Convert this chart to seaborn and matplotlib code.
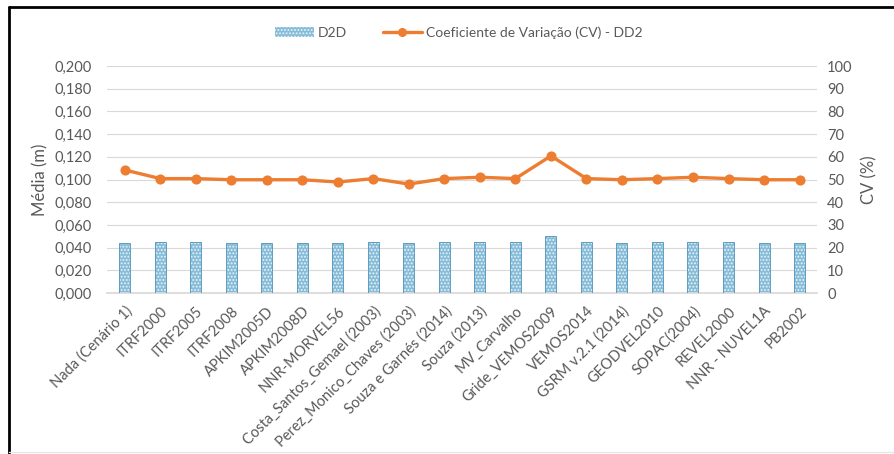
import matplotlib
matplotlib.use('Agg')
import matplotlib.pyplot as plt
import seaborn as sns
from matplotlib.lines import Line2D
from matplotlib.patches import Patch
from matplotlib.ticker import MultipleLocator, FuncFormatter

# Data
categories = [
    'Nada (Cenário 1)', 'ITRF2000', 'ITRF2005', 'ITRF2008', 'APKIM2005D',
    'APKIM2008D', 'NNR-MORVEL56', 'Costa_Santos_Gemael (2003)',
    'Perez_Monico_Chaves (2003)', 'Souza e Garnés (2014)', 'Souza (2013)',
    'MV_Carvalho', 'Gride_VEMOS2009', 'VEMOS2014', 'GSRM v.2.1 (2014)',
    'GEODVEL2010', 'SOPAC(2004)', 'REVEL2000', 'NNR - NUVEL1A', 'PB2002',
]
d2d_media = [0.044, 0.045, 0.045, 0.044, 0.044, 0.044, 0.044, 0.045, 0.044, 0.045,
             0.045, 0.045, 0.050, 0.045, 0.044, 0.045, 0.045, 0.045, 0.044, 0.044]
cv_dd2 = [54.2, 50.4, 50.4, 49.9, 49.9, 49.9, 48.9, 50.4, 48.0, 50.4,
          51.0, 50.4, 60.4, 50.4, 49.9, 50.4, 51.0, 50.4, 49.9, 49.9]

BAR_COLOR = '#86bcd8'
LINE_COLOR = '#ed7d31'
TEXT_COLOR = '#595959'
GRID_COLOR = '#d9d9d9'

sns.set_theme(style='white')
plt.rcParams['font.family'] = ['Lato', 'DejaVu Sans']
plt.rcParams['hatch.linewidth'] = 0.9

fig = plt.figure(figsize=(8.94, 4.54), dpi=100)
ax = fig.add_axes([0.1197, 0.3546, 0.7945, 0.5])
ax2 = ax.twinx()

# Bars (primary axis)
sns.barplot(x=categories, y=d2d_media, ax=ax, color=BAR_COLOR, width=0.31,
            saturation=1, zorder=2)
for p in ax.patches:
    p.set_hatch('.....')
    p.set_edgecolor('#e8f3f9')
    p.set_linewidth(0)
    ax.add_patch(plt.Rectangle(p.get_xy(), p.get_width(), p.get_height(),
                               fill=False, edgecolor='#5f9dc0', lw=0.7, zorder=3))

# Line (secondary axis)
sns.pointplot(x=categories, y=cv_dd2, ax=ax2, color=LINE_COLOR, markers='o',
              markersize=5.5, linewidth=2.4, zorder=4)

ax.set_ylim(0, 0.2)
ax2.set_ylim(0, 100)
ax.set_xlim(-0.5, len(categories) - 0.5)
ax.yaxis.set_major_locator(MultipleLocator(0.02))
ax2.yaxis.set_major_locator(MultipleLocator(10))
ax.yaxis.set_major_formatter(FuncFormatter(lambda v, _: f'{v:.3f}'.replace('.', ',')))

ax.grid(axis='y', color=GRID_COLOR, lw=0.8, zorder=0)
ax.set_axisbelow(True)
for a in (ax, ax2):
    for s in a.spines.values():
        s.set_visible(False)
    a.tick_params(length=0, colors=TEXT_COLOR, labelsize=10.5)
ax.spines['bottom'].set_visible(True)
ax.spines['bottom'].set_color(GRID_COLOR)

ax.tick_params(axis='y', pad=11)
ax2.tick_params(axis='y', pad=7)
ax.set_xticks(range(len(categories)))
ax.set_xticklabels(categories, rotation=45, ha='right', rotation_mode='anchor',
                   fontsize=10.5, color=TEXT_COLOR)
ax.tick_params(axis='x', pad=8)

ax.set_ylabel('Média (m)', color=TEXT_COLOR, fontsize=12, labelpad=4)
ax2.set_ylabel('CV (%)', color=TEXT_COLOR, fontsize=12, rotation=90, labelpad=6)
ax.set_xlabel('')

handles = [
    Patch(facecolor=BAR_COLOR, edgecolor='#e8f3f9', hatch='.....', lw=0),
    Line2D([0], [0], color=LINE_COLOR, lw=2.4, marker='o', markersize=5.5),
]
fig.legend(handles, ['D2D', 'Coeficiente de Variação (CV) - DD2'],
           loc='center', bbox_to_anchor=(0.513, 0.928), ncol=2, frameon=False,
           fontsize=10, labelcolor=TEXT_COLOR, handlelength=2.8,
           columnspacing=2.6, handletextpad=0.3)

# Outer frame (black on top/left, faint at bottom)
fig.add_artist(Line2D([9 / 894, 1], [1 - 7 / 454, 1 - 7 / 454], color='black', lw=2))
fig.add_artist(Line2D([9 / 894, 9 / 894], [0, 1 - 7 / 454], color='black', lw=2))
fig.add_artist(Line2D([9 / 894, 1], [2 / 454, 2 / 454], color='#e6e6e6', lw=1))

fig.savefig('out.png', dpi=100)
